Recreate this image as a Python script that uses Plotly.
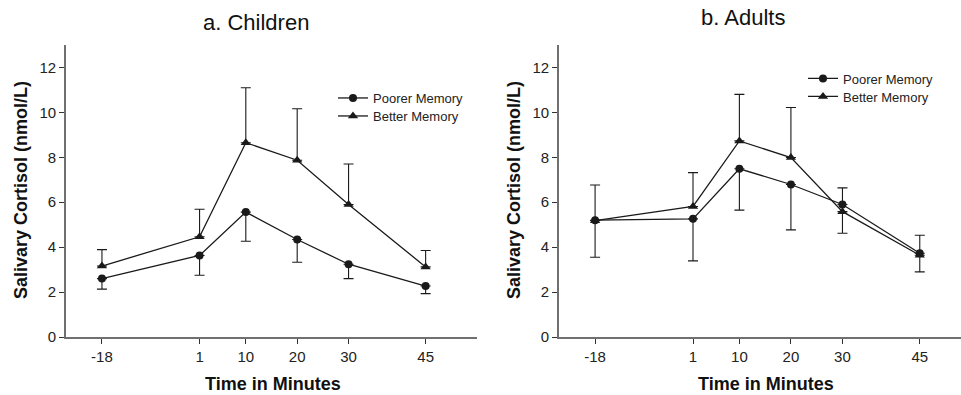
import plotly.graph_objects as go

times = [-18, 1, 10, 20, 30, 45]
tick_labels = ["-18", "1", "10", "20", "30", "45"]

# Children
ch_poor = [2.60, 3.63, 5.56, 4.34, 3.24, 2.27]
ch_poor_up = [0, 0, 0, 0, 0, 0]
ch_poor_dn = [0.47, 0.88, 1.30, 1.01, 0.64, 0.34]
ch_better = [3.16, 4.46, 8.65, 7.87, 5.90, 3.12]
ch_better_up = [0.73, 1.23, 2.45, 2.29, 1.80, 0.73]
ch_better_dn = [0, 0, 0, 0, 0, 0]

# Adults
ad_poor = [5.20, 5.26, 7.49, 6.79, 5.90, 3.73]
ad_poor_up = [0, 0, 0, 0, 0.74, 0.80]
ad_poor_dn = [1.65, 1.87, 1.84, 2.02, 0, 0]
ad_better = [5.18, 5.81, 8.73, 7.99, 5.58, 3.64]
ad_better_up = [1.59, 1.51, 2.07, 2.23, 0, 0]
ad_better_dn = [0, 0, 0, 0, 0.96, 0.74]

FONT = "Liberation Sans, Arial, Helvetica, sans-serif"
INK = "#1a1a1a"

fig = go.Figure()

def add(x, y, up, dn, name, symbol, xa, ya, legend, size):
    fig.add_trace(go.Scatter(
        x=x, y=y, name=name, mode="lines+markers", showlegend=True,
        xaxis=xa, yaxis=ya, legend=legend,
        line=dict(color=INK, width=1.3),
        marker=dict(symbol=symbol, size=size, color=INK, line=dict(width=0)),
        error_y=dict(type="data", symmetric=False, array=up, arrayminus=dn,
                     color=INK, thickness=1.1, width=5),
    ))

add(times, ch_poor, ch_poor_up, ch_poor_dn, "Poorer Memory", "circle", "x", "y", "legend", 8)
add(times, ch_better, ch_better_up, ch_better_dn, "Better Memory", "triangle-up", "x", "y", "legend3", 9)
add(times, ad_poor, ad_poor_up, ad_poor_dn, "Poorer Memory", "circle", "x2", "y2", "legend2", 8)
add(times, ad_better, ad_better_up, ad_better_dn, "Better Memory", "triangle-up", "x2", "y2", "legend4", 9)

W, H = 961, 395
ML, MR, MT, MB = 66, 0, 45, 58
PW = W - ML - MR
PH = H - MT - MB

def px(v):
    return (v - ML) / PW

def py(v):
    return 1 - (v - MT) / PH

axis_common = dict(
    showline=True, linecolor="#707070", linewidth=1.6,
    ticks="outside", ticklen=5, tickcolor="#333", tickwidth=1,
    showgrid=False, zeroline=False, automargin=False,
    tickfont=dict(family=FONT, size=15, color="#222"),
)

xcommon = dict(axis_common, tickmode="array", tickvals=times, ticktext=tick_labels)
ycommon = dict(axis_common, range=[0, 13], tickvals=[0, 2, 4, 6, 8, 10, 12])

legend_common = dict(xanchor="left", yanchor="middle", bgcolor="rgba(0,0,0,0)",
                     font=dict(family=FONT, size=13, color="#222"),
                     tracegroupgap=0, itemwidth=30, visible=True)

def ann(text, x, y, size, bold=False, angle=0):
    return dict(text=f"<b>{text}</b>" if bold else text, x=px(x), y=py(y),
                xref="paper", yref="paper", showarrow=False, textangle=angle,
                font=dict(family=FONT, size=size, color="#111"),
                xanchor="center", yanchor="middle")

fig.update_layout(
    width=W, height=H, showlegend=True,
    margin=dict(l=ML, r=MR, t=MT, b=MB),
    paper_bgcolor="white", plot_bgcolor="white",
    font=dict(family=FONT, color=INK),
    xaxis=dict(xcommon, domain=[0, px(477)], range=[-25, 55], anchor="y"),
    yaxis=dict(ycommon, domain=[0, 1], anchor="x"),
    xaxis2=dict(xcommon, domain=[px(559), 1], range=[-25, 53], anchor="y2"),
    yaxis2=dict(ycommon, domain=[0, 1], anchor="x2"),
    legend=dict(legend_common, x=px(333), y=py(98)),
    legend3=dict(legend_common, x=px(333), y=py(116)),
    legend2=dict(legend_common, x=px(803), y=py(78.5)),
    legend4=dict(legend_common, x=px(803), y=py(96.5)),
    annotations=[
        ann("a. Children", 256, 23, 22),
        ann("b. Adults", 743, 18, 22),
        ann("Time in Minutes", 273, 384, 18, bold=True),
        ann("Time in Minutes", 766, 384, 18, bold=True),
        ann("Salivary Cortisol (nmol/L)", 21, 190, 18, bold=True, angle=-90),
        ann("Salivary Cortisol (nmol/L)", 514, 190, 18, bold=True, angle=-90),
    ],
)

fig.write_html("out.html", config={"displayModeBar": False},
               post_script="document.body.style.margin='0';document.body.style.padding='0';")
